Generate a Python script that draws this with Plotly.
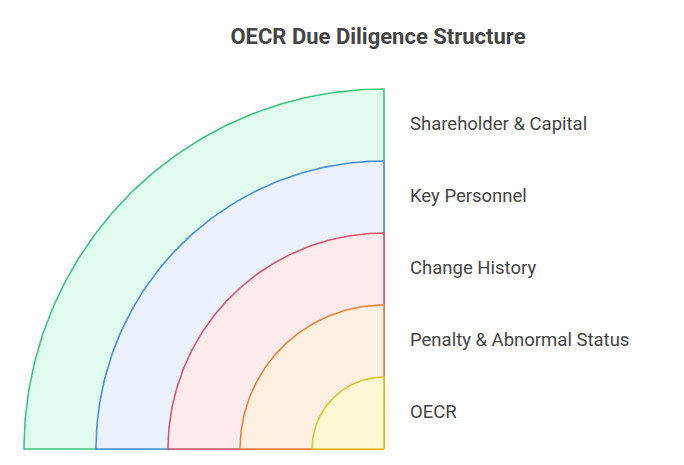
import numpy as np
import plotly.graph_objects as go

labels = ["Shareholder & Capital", "Key Personnel", "Change History", "Penalty & Abnormal Status", "OECR"]
radii = [5, 4, 3, 2, 1]
strokes = ["#3cc47c", "#4a90d9", "#d9576a", "#e8843a", "#e3c22c"]
fills = ["#e0fcee", "#ebf2fe", "#ffebeb", "#fdf0e1", "#fffad5"]

fig = go.Figure()
t = np.linspace(np.pi, np.pi / 2, 120)
for r, s, f in zip(radii, strokes, fills):
    xs = np.concatenate([[0], r * np.cos(t), [0]])
    ys = np.concatenate([[0], r * np.sin(t), [0]])
    fig.add_trace(go.Scatter(x=xs, y=ys, mode="lines", fill="toself", fillcolor=f,
                             line=dict(color=s, width=1.6), hoverinfo="skip", showlegend=False))

fig.add_trace(go.Scatter(x=[0.361] * len(labels), y=[r - 0.5 for r in radii], mode="text",
                         text=labels, textposition="middle right",
                         textfont=dict(size=18.5, color="#444444", family="Roboto"),
                         hoverinfo="skip", showlegend=False))

off = 8
fig.update_layout(
    width=684, height=465, margin=dict(l=0, r=0, t=0, b=0),
    paper_bgcolor="white", plot_bgcolor="white",
    xaxis=dict(range=[(off - 384) / 72, (684 + off - 384) / 72], visible=False, fixedrange=True),
    yaxis=dict(range=[-(16 + off) / 72, (449 - off) / 72], visible=False, fixedrange=True),
    title=dict(text="<b>OECR Due Diligence Structure</b>", x=(378 - off) / 684, xanchor="center",
               y=1 - (36 - off) / 465, yanchor="middle",
               font=dict(size=22, color="#444444", family="Roboto")),
)
fig.write_html("out.html")
